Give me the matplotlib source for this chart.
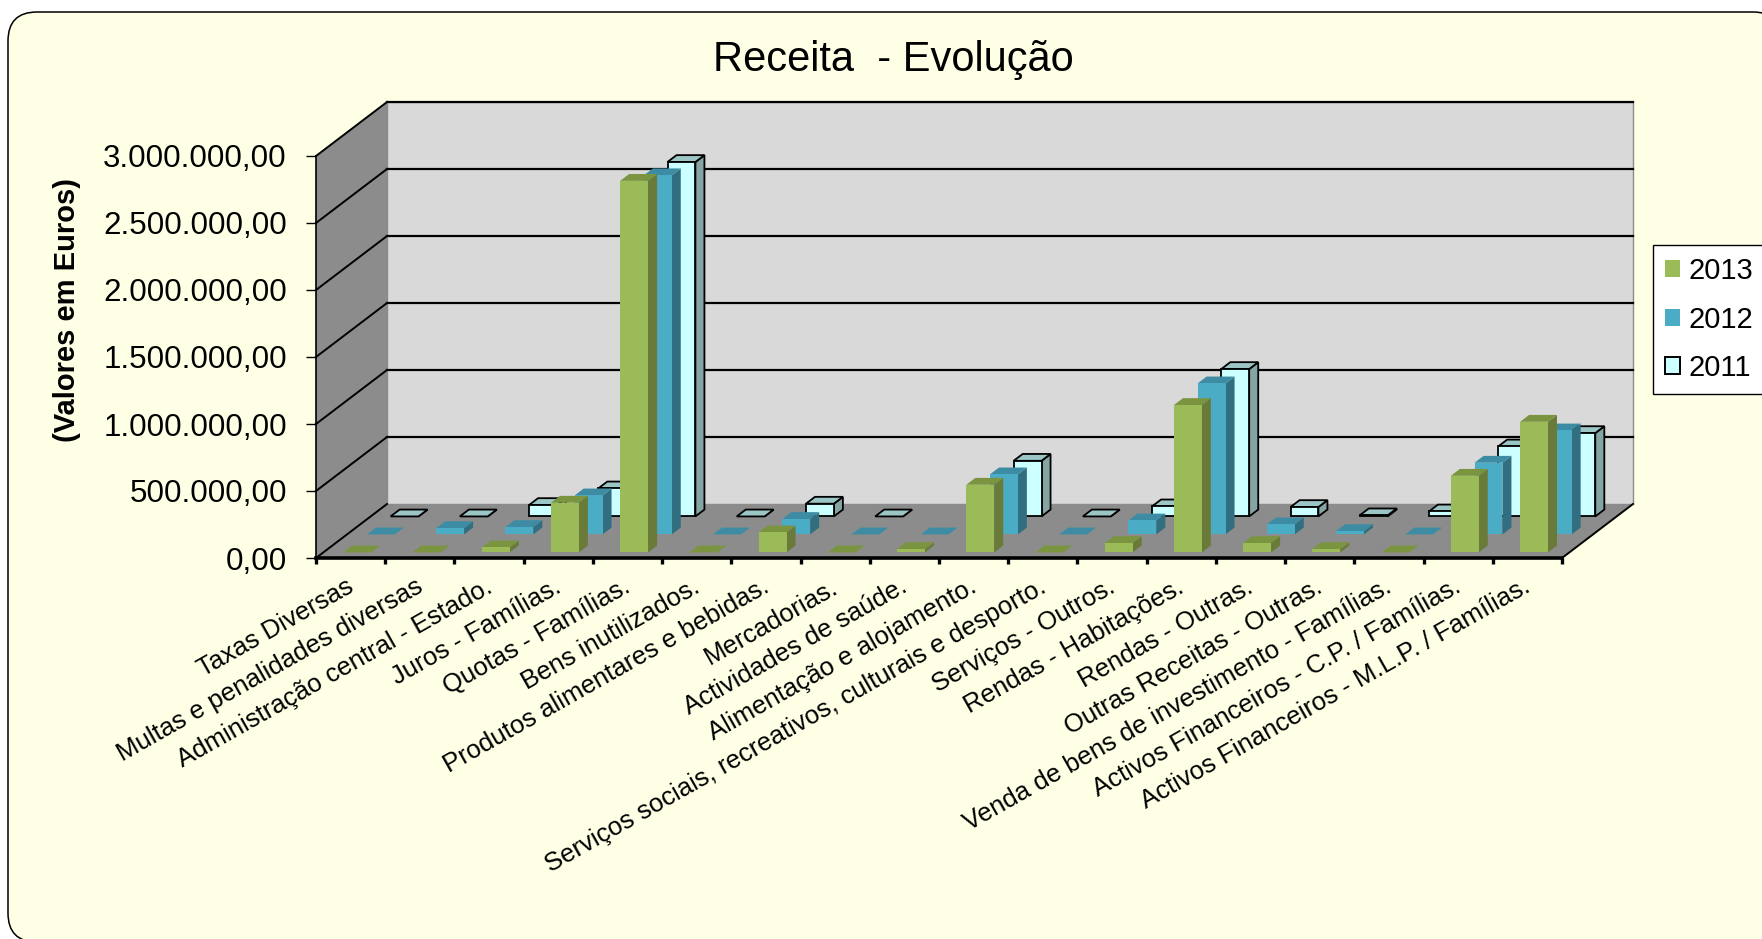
import numpy as np
import matplotlib
matplotlib.use('Agg')
import matplotlib.pyplot as plt
from matplotlib.patches import Polygon, Patch, FancyBboxPatch
from matplotlib.transforms import ScaledTranslation

plt.rcParams['font.family'] = ['Liberation Sans', 'DejaVu Sans']

categories = ['Taxas Diversas', 'Multas e penalidades diversas', 'Administração central - Estado.',
              'Juros - Famílias.', 'Quotas - Famílias.', 'Bens inutilizados.',
              'Produtos alimentares e bebidas.', 'Mercadorias.', 'Actividades de saúde.',
              'Alimentação e alojamento.', 'Serviços sociais, recreativos, culturais e desporto.',
              'Serviços - Outros.', 'Rendas - Habitações.', 'Rendas - Outras.',
              'Outras Receitas - Outras.', 'Venda de bens de investimento - Famílias.',
              'Activos Financeiros - C.P. / Famílias.', 'Activos Financeiros - M.L.P. / Famílias.']

v2013 = [0, 0, 37000, 371000, 2773000, 0, 149000, 0, 25000, 505000, 0, 70000, 1100000, 70000, 25000, 0, 572000, 975000]
v2012 = [0, 47000, 55000, 291000, 2680000, 0, 115000, 0, 0, 448000, 0, 104000, 1127000, 75000, 25000, 0, 535000, 776000]
v2011 = [0, 0, 85000, 209000, 2645000, 0, 95000, 0, np.nan, 415000, 0, 75000, 1100000, 70000, 8000, 37000, 522000, 622000]

y_ticks = [0, 500000, 1000000, 1500000, 2000000, 2500000, 3000000]
y_labels = ['0,00', '500.000,00', '1.000.000,00', '1.500.000,00', '2.000.000,00', '2.500.000,00', '3.000.000,00']

# colours: front, side, top, edge
styles = {
    '2013': ('#9BBB59', '#6A7A38', '#7A9440', 'none'),
    '2012': ('#4BACC6', '#316F80', '#3D8CA3', 'none'),
    '2011': ('#CCFFFF', '#85A5A5', '#9CC6C6', 'black'),
}
BG = '#FFFFE6'

W, H = 1762, 939
fig = plt.figure(figsize=(W / 100, H / 100), dpi=100, facecolor='white')

# rounded frame, runs off the right and bottom of the picture
bg = fig.add_axes([0, 0, 1, 1])
bg.set_xlim(0, W)
bg.set_ylim(H, 0)
bg.axis('off')
bg.add_patch(FancyBboxPatch((37, 41), 1716, 872, boxstyle='round,pad=29,rounding_size=29',
                            fc=BG, ec='black', lw=1.1))

# main axes sits on the front face of the 3d box
L, R, B, T = 316, 1562, 558, 156
ax = fig.add_axes([L / W, (H - B) / H, (R - L) / W, (B - T) / H])
ax.patch.set_visible(False)
ax.set_xlim(0, len(categories))
ax.set_ylim(0, 3000000)

# oblique offset of the back of the box, in data units
DX = 71 / ((R - L) / len(categories))
DY = 54 * 3000000 / (B - T)
N = len(categories)


def pt(x, v, d):
    return (x + d * DX, v + d * DY)


def poly(pts, fc, ec='none', lw=0.0, z=1):
    ax.add_patch(Polygon(pts, closed=True, fc=fc, ec=ec, lw=lw, zorder=z, clip_on=False, joinstyle='miter'))


# walls and floor
poly([pt(0, 0, 1), pt(N, 0, 1), pt(N, 3000000, 1), pt(0, 3000000, 1)], '#D9D9D9', '#8C8C8C', 1.0)
poly([pt(0, 0, 0), pt(0, 0, 1), pt(0, 3000000, 1), pt(0, 3000000, 0)], '#8C8C8C')
poly([pt(0, 0, 0), pt(N, 0, 0), pt(N, 0, 1), pt(0, 0, 1)], '#8C8C8C')

for v in y_ticks:
    xs = [pt(0, v, 0)[0], pt(0, v, 1)[0]]
    ys = [pt(0, v, 0)[1], pt(0, v, 1)[1]]
    ax.plot(xs, ys, color='black', lw=1.4, zorder=1.5, clip_on=False)
    if v > 0:
        ax.plot([pt(0, v, 1)[0], pt(N, v, 1)[0]], [pt(0, v, 1)[1]] * 2, color='black', lw=1.6, zorder=1.5, clip_on=False)
ax.plot([N, N + DX], [0, DY], color='black', lw=1.4, zorder=1.5, clip_on=False)

# bars, back row first so the front rows cover them
BAR_W = 0.403
BAR_D = 0.127
rows = [('2011', v2011, 5 / 6), ('2012', v2012, 1 / 2), ('2013', v2013, 1 / 6)]
z = 3
for name, vals, centre in rows:
    front, side, top, edge = styles[name]
    lw = 1.3 if edge != 'none' else 0.0
    d0 = centre - BAR_D / 2
    d1 = centre + BAR_D / 2
    for k, v in enumerate(vals):
        if np.isnan(v):
            continue
        x0 = k + 0.49 - BAR_W / 2
        x1 = x0 + BAR_W
        z += 0.01
        poly([pt(x1, 0, d0), pt(x1, 0, d1), pt(x1, v, d1), pt(x1, v, d0)], side, edge, lw, z)
        poly([pt(x0, v, d0), pt(x1, v, d0), pt(x1, v, d1), pt(x0, v, d1)], top, edge, lw, z)
        if v > 0:
            poly([pt(x0, 0, d0), pt(x1, 0, d0), pt(x1, v, d0), pt(x0, v, d0)], front, edge, lw, z)

# axes
for s in ['top', 'right']:
    ax.spines[s].set_visible(False)
ax.spines['left'].set_linewidth(1.2)
ax.spines['bottom'].set_linewidth(2.6)
ax.spines['left'].set_zorder(20)
ax.spines['bottom'].set_zorder(20)

ax.set_yticks(y_ticks)
ax.set_yticklabels(y_labels, fontsize=22.6)
ax.tick_params(axis='y', length=7, width=1.0, pad=14)

ax.set_xticks(np.arange(N + 1))
ax.set_xticklabels([])
ax.tick_params(axis='x', which='major', length=4, width=2.4)
ax.set_xticks(np.arange(N) + 0.5, minor=True)
ax.set_xticklabels(categories, minor=True, rotation=29.5, ha='right', va='top',
                   rotation_mode='anchor', fontsize=18.5)
ax.tick_params(axis='x', which='minor', length=0, pad=12)
# nudge the slanted labels a little to the left
shift = ScaledTranslation(-5 / 100, 0, fig.dpi_scale_trans)
for lab in ax.get_xticklabels(minor=True):
    lab.set_transform(lab.get_transform() + shift)

fig.text(893 / W, 1 - 60 / H, 'Receita  - Evolução', fontsize=30, ha='center', va='center')
fig.text(67 / W, 1 - 310 / H, '(Valores em Euros)', fontsize=21, fontweight='bold',
         rotation=90, ha='center', va='center')

# legend box is cut by the edge of the picture
handles = [Patch(fc=styles[n][0], ec=styles[n][3] if styles[n][3] != 'none' else styles[n][0],
                 lw=1.4 if n == '2011' else 0) for n in ['2013', '2012', '2011']]
leg = fig.legend(handles, ['2013', '2012', '2011'], loc='upper left',
                 bbox_to_anchor=(1653 / W, 1 - 245 / H), borderaxespad=0, fontsize=21,
                 fancybox=False, framealpha=1, edgecolor='black', handlelength=0.51, handleheight=0.51,
                 handletextpad=0.28, labelspacing=0.7, borderpad=0.42)
leg.get_frame().set_linewidth(1.0)

fig.savefig('out.png', dpi=100)
